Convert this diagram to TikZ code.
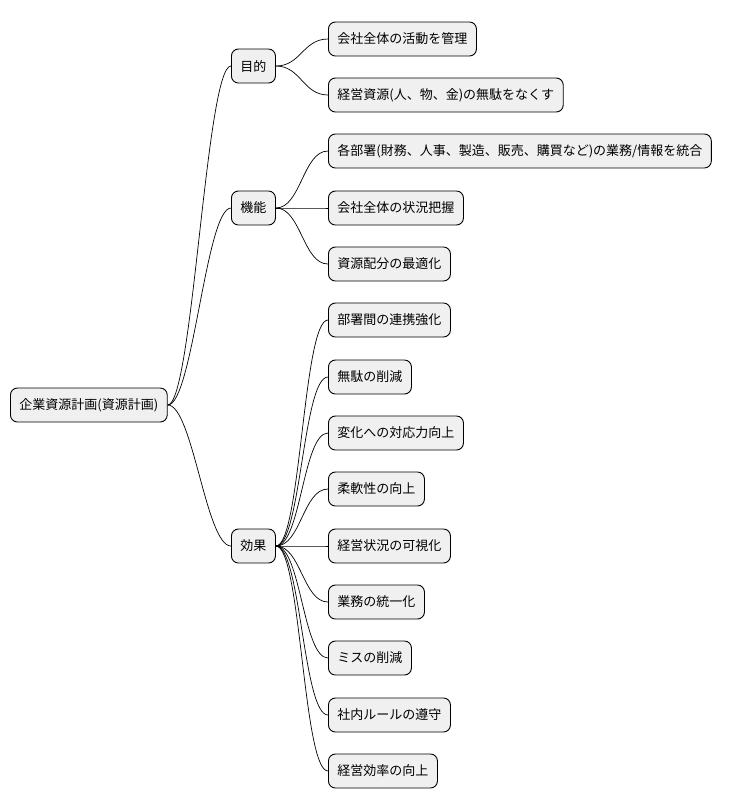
\documentclass[tikz,border=0pt]{standalone}
\usepackage{fontspec}
\setmainfont{Noto Sans CJK JP}
\begin{document}
\begin{tikzpicture}[x=1pt,y=-1pt,
	topic/.style={draw,line width=0.9pt,rounded corners=7pt,fill=black!6,anchor=west,minimum height=34pt,inner xsep=9pt,font=\fontsize{13}{15}\selectfont},
	link/.style={line width=0.7pt}]
	\useasboundingbox (0,0) rectangle (753,809);
	% root and branches
	\node[topic] (erp) at (10,405) {企業資源計画(資源計画)};
	\node[topic] (goal) at (231,66) {目的};
	\node[topic] (func) at (231,208) {機能};
	\node[topic] (effect) at (231,546) {効果};
	% goal leaves
	\node[topic] (g1) at (328,39) {会社全体の活動を管理};
	\node[topic] (g2) at (328,95) {経営資源(人、物、金)の無駄をなくす};
	% function leaves
	\node[topic] (f1) at (328,151) {各部署(財務、人事、製造、販売、購買など)の業務/情報を統合};
	\node[topic] (f2) at (328,208) {会社全体の状況把握};
	\node[topic] (f3) at (328,264) {資源配分の最適化};
	% effect leaves
	\node[topic] (e1) at (328,320) {部署間の連携強化};
	\node[topic] (e2) at (328,377) {無駄の削減};
	\node[topic] (e3) at (328,433) {変化への対応力向上};
	\node[topic] (e4) at (328,489) {柔軟性の向上};
	\node[topic] (e5) at (328,546) {経営状況の可視化};
	\node[topic] (e6) at (328,602) {業務の統一化};
	\node[topic] (e7) at (328,658) {ミスの削減};
	\node[topic] (e8) at (328,715) {社内ルールの遵守};
	\node[topic] (e9) at (328,771) {経営効率の向上};
	% connectors
	\foreach \b in {goal,func,effect}
		\draw[link] (erp.east) .. controls +(25,0) and +(-25,0) .. (\b.west);
	\foreach \l in {g1,g2}
		\draw[link] (goal.east) .. controls +(25,0) and +(-25,0) .. (\l.west);
	\foreach \l in {f1,f2,f3}
		\draw[link] (func.east) .. controls +(25,0) and +(-25,0) .. (\l.west);
	\foreach \l in {e1,e2,e3,e4,e5,e6,e7,e8,e9}
		\draw[link] (effect.east) .. controls +(25,0) and +(-25,0) .. (\l.west);
\end{tikzpicture}
\end{document}
